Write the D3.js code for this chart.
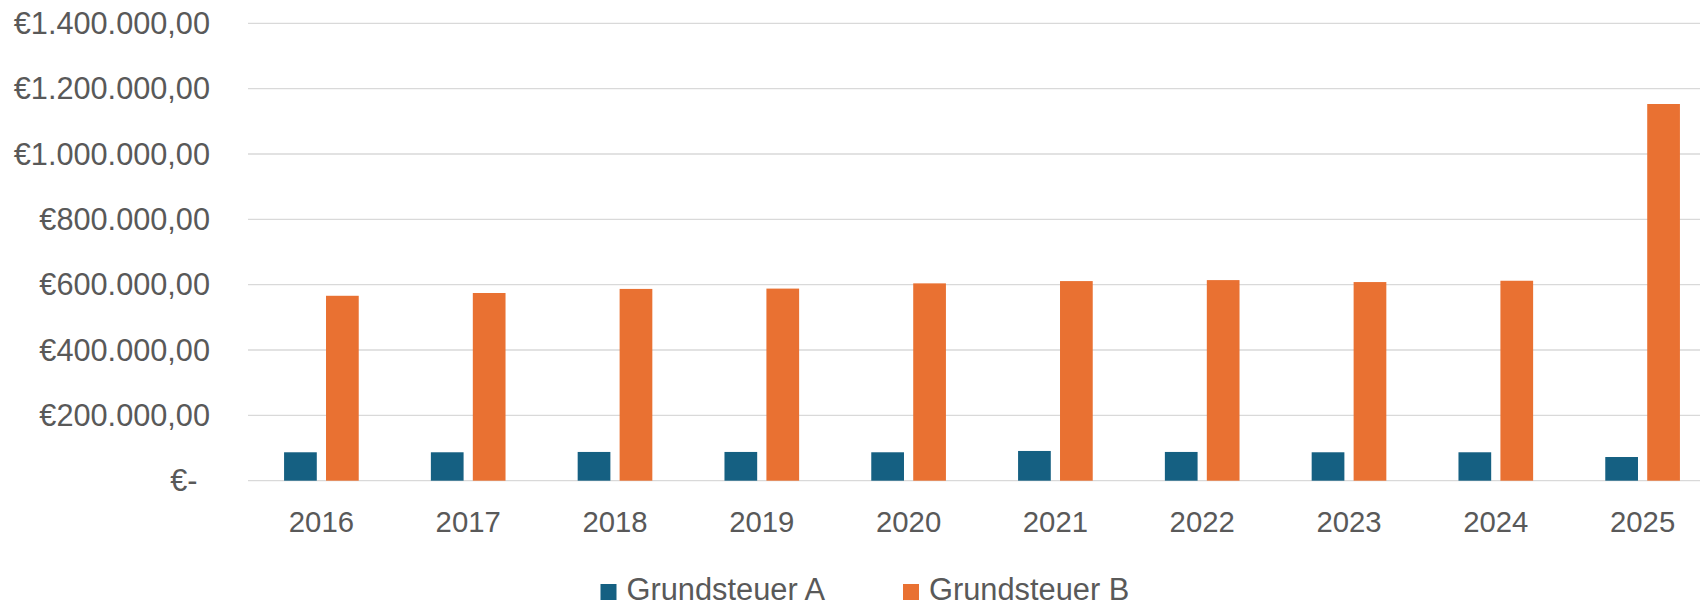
<!DOCTYPE html>
<html>
<head>
<meta charset="utf-8">
<script src="https://cdn.jsdelivr.net/npm/d3@7"></script>
<style>
  html, body { margin: 0; padding: 0; background: #fff; overflow: hidden; }
  svg { display: block; }
  text { font-family: "Liberation Sans", Arial, sans-serif; fill: #595959; }
</style>
</head>
<body>
<svg id="chart" width="1700" height="603"></svg>
<script>
const years = ["2016","2017","2018","2019","2020","2021","2022","2023","2024","2025"];
const seriesNames = ["Grundsteuer A", "Grundsteuer B"];
const grundsteuerA = [87000, 87000, 88000, 88000, 87000, 91000, 88000, 87000, 87000, 72500];
const grundsteuerB = [566000, 574500, 587000, 588000, 604000, 611000, 614000, 608000, 612000, 1153000];
const yTicks = [0, 200000, 400000, 600000, 800000, 1000000, 1200000, 1400000];
const colors = ["#156082", "#E97132"];

const svg = d3.select("#chart");
const plotLeft = 248, plotRight = 1716, plotTop = 23.3, plotBottom = 480.7;

const x0 = d3.scaleBand().domain(years).range([plotLeft, plotRight]).paddingInner(0).paddingOuter(0);
const x1 = d3.scaleBand().domain(seriesNames).range([0, x0.bandwidth()]).paddingInner(0.22).paddingOuter(0.86);
const y = d3.scaleLinear().domain([0, 1400000]).range([plotBottom, plotTop]);
const color = d3.scaleOrdinal().domain(seriesNames).range(colors);

const locale = d3.formatLocale({decimal: ",", thousands: ".", grouping: [3], currency: ["€", ""]});
const fmt = locale.format("$,.2f");

// gridlines
svg.append("g").selectAll("line").data(yTicks).join("line")
  .attr("x1", plotLeft).attr("x2", plotRight)
  .attr("y1", d => y(d)).attr("y2", d => y(d))
  .attr("stroke", "#d9d9d9").attr("stroke-width", 1.3);

// y labels
svg.append("g").selectAll("text").data(yTicks).join("text")
  .attr("x", d => d === 0 ? 197.5 : 210)
  .attr("y", d => y(d))
  .attr("dy", "0.35em")
  .attr("text-anchor", "end")
  .style("font-size", "30.7px")
  .text(d => d === 0 ? "€-" : fmt(d));

// data
const data = years.map((yr, i) => ({year: yr, values: [
  {key: seriesNames[0], value: grundsteuerA[i]},
  {key: seriesNames[1], value: grundsteuerB[i]}
]}));

svg.append("g").selectAll("g").data(data).join("g")
  .attr("transform", d => `translate(${x0(d.year)},0)`)
  .selectAll("rect").data(d => d.values).join("rect")
  .attr("x", d => x1(d.key))
  .attr("width", x1.bandwidth())
  .attr("y", d => y(d.value))
  .attr("height", d => y(0) - y(d.value))
  .attr("fill", d => color(d.key));

// x labels
svg.append("g").selectAll("text").data(years).join("text")
  .attr("x", d => x0(d) + x0.bandwidth() / 2)
  .attr("y", 531.5)
  .attr("text-anchor", "middle")
  .style("font-size", "29.3px")
  .text(d => d);

// legend
const legendX = [600.5, 903];
const lg = svg.append("g").selectAll("g").data(seriesNames).join("g")
  .attr("transform", (d, i) => `translate(${legendX[i]},0)`);
lg.append("rect").attr("x", 0).attr("y", 584).attr("width", 16).attr("height", 16)
  .attr("fill", d => color(d));
lg.append("text").attr("x", 26).attr("y", 600).style("font-size", "30.8px").text(d => d);
</script>
</body>
</html>
